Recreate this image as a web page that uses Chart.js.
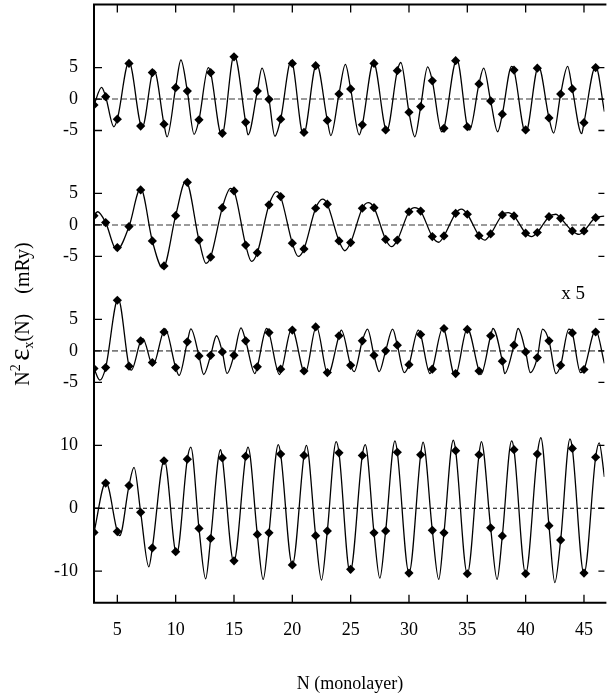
<!DOCTYPE html>
<html><head><meta charset="utf-8">
<script src="https://cdn.jsdelivr.net/npm/chart.js@4.4.0/dist/chart.umd.min.js"></script>
<style>html,body{margin:0;padding:0;background:#fff;}canvas{display:block;}</style>
</head><body>
<canvas id="c" width="609" height="694"></canvas>
<script>
// ---- data ----
const layerN = [3,4,5,6,7,8,9,10,11,12,13,14,15,16,17,18,19,20,21,22,23,24,25,26,27,28,29,30,31,32,33,34,35,36,37,38,39,40,41,42,43,44,45,46];

const panel1Points = [-0.95,0.37,-3.2,5.66,-4.3,4.2,-4.0,1.8,1.27,-3.3,4.2,-5.45,6.7,-3.7,1.27,-0.05,-3.2,5.66,-5.3,5.3,-3.4,0.8,1.6,-4.1,5.66,-4.9,4.5,-2.1,-1.2,2.9,-4.65,6.1,-4.4,2.4,-0.3,-2.4,4.6,-4.9,4.9,-3.0,0.8,1.6,-3.75,5.0];
const panel2Points = [1.48,0.37,-3.6,-0.26,5.56,-2.54,-6.5,1.48,6.77,-2.4,-5.1,2.75,5.4,-3.2,-4.4,3.2,4.5,-2.9,-3.8,2.65,3.3,-2.54,-2.8,2.65,2.75,-2.3,-2.4,2.1,2.2,-1.85,-1.75,1.85,1.7,-1.7,-1.43,1.6,1.43,-1.3,-1.2,1.32,1.06,-0.95,-0.95,1.16];
const panel3Points = [-2.8,-2.65,8.04,-2.43,1.6,-1.85,3.0,-2.65,1.43,-0.8,-0.7,-0.16,-0.7,1.6,-2.54,2.9,-2.9,3.3,-3.2,3.8,-3.44,2.4,-2.3,1.6,-0.7,0.0,0.9,-2.2,2.6,-2.9,3.55,-3.6,3.4,-3.2,2.4,-1.64,0.9,-0.16,-1.06,1.6,-2.3,2.85,-2.96,3.0];
const panel4Points = [-3.83,4.0,-3.7,3.6,-0.64,-6.3,7.55,-6.9,7.8,-3.2,-4.8,8.0,-8.35,8.25,-4.15,-3.9,8.6,-9.0,8.4,-4.36,-3.6,8.8,-9.7,8.4,-3.9,-3.6,8.9,-10.3,8.5,-3.5,-3.9,9.15,-10.4,8.5,-3.1,-4.4,9.3,-10.4,8.6,-2.77,-5.05,9.5,-10.3,8.1];

// smooth curves: turning points (N, value)
const panel1CurveN = [3,3.65,4.7,6.0,7.13,8.15,9.26,10.45,11.58,12.8,13.95,15.02,16.2,17.4,18.5,19.9,20.95,22.08,23.3,24.55,25.74,26.96,28.1,29.3,30.5,31.6,32.8,34.1,35.2,36.4,37.6,38.8,40.0,41.1,42.4,43.6,44.8,46.0,46.75];
const panel1CurveV = [-0.95,1.85,-4.4,5.9,-4.5,4.6,-6.0,6.2,-5.6,5.0,-5.8,7.0,-5.7,4.9,-5.9,6.1,-5.7,5.6,-5.8,5.5,-5.7,5.8,-5.0,5.8,-6.0,5.1,-5.2,6.3,-4.9,4.9,-5.2,5.2,-5.4,5.2,-5.4,5.2,-5.5,5.2,-2.0];
const panel2CurveN = [3,3.3,4.95,7.0,8.9,10.87,12.6,14.7,16.5,18.66,20.5,22.6,24.5,26.5,28.5,30.5,32.55,34.5,36.5,38.5,40.5,42.6,44.6,46.75];
const panel2CurveV = [1.48,2.1,-4.0,5.8,-6.9,7.0,-6.1,5.8,-5.8,5.3,-5.0,4.1,-4.1,3.55,-3.45,2.75,-2.75,2.5,-2.4,1.96,-1.85,1.7,-1.5,1.4];
const panel3CurveN = [3,3.5,5.07,6.2,7.19,8.04,9.1,10.3,11.3,12.4,13.5,14.4,15.6,16.8,17.8,18.9,19.95,21.1,22.06,23.05,24.2,25.3,26.45,27.45,28.6,29.6,30.8,31.8,32.9,33.95,35.0,36.16,37.2,38.2,39.35,40.4,41.45,42.6,43.7,44.7,46.0,46.75];
const panel3CurveV = [-2.8,-4.65,8.3,-3.07,1.96,-2.3,3.5,-3.9,3.5,-3.75,2.4,-3.6,3.65,-3.6,3.55,-3.75,3.55,-3.6,3.9,-3.75,3.3,-3.3,3.45,-3.3,3.45,-3.44,3.3,-3.6,3.65,-4.0,3.55,-3.75,3.55,-3.6,3.55,-3.44,3.45,-3.6,3.45,-3.44,3.3,-2.0];
const panel4CurveN = [3,4.02,5.2,6.43,7.7,9.03,10.08,11.3,12.57,13.85,14.98,16.2,17.5,18.8,20.0,21.2,22.5,23.76,24.95,26.25,27.5,28.8,30.0,31.2,32.55,33.8,35.0,36.2,37.55,38.8,40.0,41.3,42.5,43.8,45.0,46.3,46.75];
const panel4CurveV = [-3.83,4.15,-4.36,6.5,-9.3,7.7,-7.3,9.7,-11.2,9.3,-8.5,9.7,-11.3,10.1,-9.0,10.0,-11.4,10.6,-10.2,10.1,-11.1,10.7,-10.3,10.5,-11.3,10.8,-10.4,10.6,-11.3,10.7,-10.4,11.2,-11.8,11.0,-10.4,10.4,5.0];

// vertical stacking of the four panels on one shared axis
const panelOffsets = [65, 45, 25, 0];
const panelTickValues = [[-5,0,5],[-5,0,5],[-5,0,5],[-10,0,10]];
const xTickValues = [5,10,15,20,25,30,35,40,45];
const xRange = [3, 46.75];
const yRange = [-15, 80];
const xTitle = 'N (monolayer)';
const panel3Factor = 'x 5';

// ---- build datasets ----
const pointSets = [panel1Points, panel2Points, panel3Points, panel4Points];
const curveN = [panel1CurveN, panel2CurveN, panel3CurveN, panel4CurveN];
const curveV = [panel1CurveV, panel2CurveV, panel3CurveV, panel4CurveV];

// curve passes through its turning points and through the sampled points lying between them
function curvePoints(p) {
  const ns = curveN[p], vs = curveV[p], pts = pointSets[p];
  const out = ns.map((n, i) => ({x: n, y: vs[i]}));
  layerN.forEach((n, i) => {
    const v = pts[i];
    let k = ns.findIndex(m => m > n);
    if (k <= 0) return;
    const a = ns[k - 1], b = ns[k];
    if (n - a < 0.15 || b - n < 0.15) return;
    const lo = Math.min(vs[k - 1], vs[k]), hi = Math.max(vs[k - 1], vs[k]);
    if (v <= lo + 0.1 || v >= hi - 0.1) return;
    out.push({x: n, y: v});
  });
  out.sort((u, w) => u.x - w.x);
  return out.map(q => ({x: q.x, y: q.y + panelOffsets[p]}));
}

const datasets = [];
pointSets.forEach((vals, p) => {
  datasets.push({
    data: vals.map((v, i) => ({x: layerN[i], y: v + panelOffsets[p]})),
    showLine: false, pointStyle: 'rectRot', pointRadius: 4.6,
    backgroundColor: '#000', borderColor: '#000', borderWidth: 0, order: 0
  });
});
curveN.forEach((ns, p) => {
  datasets.push({
    data: curvePoints(p),
    showLine: true, pointRadius: 0, borderColor: '#000', borderWidth: 1.3,
    cubicInterpolationMode: 'monotone', fill: false, order: 1
  });
});
panelOffsets.forEach((off, p) => {
  const last = p === 3;
  datasets.push({
    data: [{x: xRange[0], y: off}, {x: xRange[1], y: off}],
    showLine: true, pointRadius: 0,
    borderColor: last ? '#000' : '#7a7a7a', borderWidth: last ? 1 : 1.6,
    borderDash: last ? [4, 3] : [6, 3], order: 2
  });
});

const allYTicks = [];
const yLabelMap = {};
panelOffsets.forEach((off, p) => panelTickValues[p].forEach(t => {
  allYTicks.push(off + t); yLabelMap[off + t] = String(t);
}));
allYTicks.sort((a, b) => a - b);

const serif = '"Liberation Serif", "DejaVu Serif", serif';

function noPad(s) { s.paddingLeft = 0; s.paddingRight = 0; s.paddingTop = 0; s.paddingBottom = 0; }

const framePlugin = {
  id: 'frame',
  afterDraw(chart) {
    const {ctx, chartArea: a, scales} = chart;
    const xs = scales.x, ys = scales.y;
    ctx.save();
    ctx.strokeStyle = '#000';
    ctx.lineWidth = 2;
    ctx.beginPath();
    ctx.moveTo(a.right + 2, a.top); ctx.lineTo(a.left, a.top);
    ctx.lineTo(a.left, a.bottom); ctx.lineTo(a.right + 2, a.bottom);
    ctx.stroke();
    ctx.lineWidth = 1.3;
    ctx.beginPath();
    const tl = 8;
    xs.ticks.forEach(t => {
      const px = xs.getPixelForValue(t.value);
      ctx.moveTo(px, a.bottom); ctx.lineTo(px, a.bottom - tl);
      ctx.moveTo(px, a.top); ctx.lineTo(px, a.top + tl);
    });
    ys.ticks.forEach(t => {
      const py = ys.getPixelForValue(t.value);
      ctx.moveTo(a.left, py); ctx.lineTo(a.left + tl, py);
      ctx.moveTo(a.right, py); ctx.lineTo(a.right - tl + 2, py);
    });
    ctx.stroke();

    ctx.fillStyle = '#000';
    // x title
    ctx.font = '18px ' + serif;
    ctx.textAlign = 'center'; ctx.textBaseline = 'alphabetic';
    ctx.fillText(xTitle, 350, 689);
    // "x 5"
    ctx.font = '19px ' + serif;
    ctx.fillText(panel3Factor, 573, 299);

    // y title (rotated)
    const segs = [
      {t: 'N', f: '20px ' + serif, dy: 0},
      {t: '2', f: '14px ' + serif, dy: -9},
      {t: ' ', f: '14px ' + serif, dy: 0},
      {t: '\u03B5', f: '29px ' + serif, dy: 0},
      {t: 'x', f: '14px ' + serif, dy: 4},
      {t: '(N)', f: '20px ' + serif, dy: 0},
      {t: '    (mRy)', f: '20px ' + serif, dy: 0}
    ];
    let total = 0;
    segs.forEach(s => { ctx.font = s.f; s.w = ctx.measureText(s.t).width; total += s.w; });
    ctx.translate(29, 314);
    ctx.rotate(-Math.PI / 2);
    ctx.textAlign = 'left';
    let cx = -total / 2;
    segs.forEach(s => { ctx.font = s.f; ctx.fillText(s.t, cx, s.dy); cx += s.w; });
    ctx.restore();
  }
};

new Chart(document.getElementById('c'), {
  type: 'scatter',
  data: {datasets},
  options: {
    responsive: false, animation: false, devicePixelRatio: 1,
    layout: {padding: {top: 4, right: 0, bottom: 0, left: 0}},
    plugins: {legend: {display: false}, tooltip: {enabled: false}},
    elements: {line: {tension: 0}},
    scales: {
      x: {
        type: 'linear', min: xRange[0], max: xRange[1],
        afterBuildTicks: s => { s.ticks = xTickValues.map(v => ({value: v})); },
        afterFit: s => { s.height = 91.3; noPad(s); },
        grid: {display: false, drawTicks: false}, border: {display: false},
        ticks: {color: '#000', font: {family: serif, size: 18}, padding: 17, maxRotation: 0,
                callback: v => String(v)}
      },
      y: {
        type: 'linear', min: yRange[0], max: yRange[1],
        afterBuildTicks: s => { s.ticks = allYTicks.map(v => ({value: v})); },
        afterFit: s => { s.width = 94; noPad(s); },
        grid: {display: false, drawTicks: false}, border: {display: false},
        ticks: {color: '#000', font: {family: serif, size: 18}, padding: 16,
                callback: v => yLabelMap[v] !== undefined ? yLabelMap[v] : ''}
      }
    }
  },
  plugins: [framePlugin]
});
</script>
</body></html>
